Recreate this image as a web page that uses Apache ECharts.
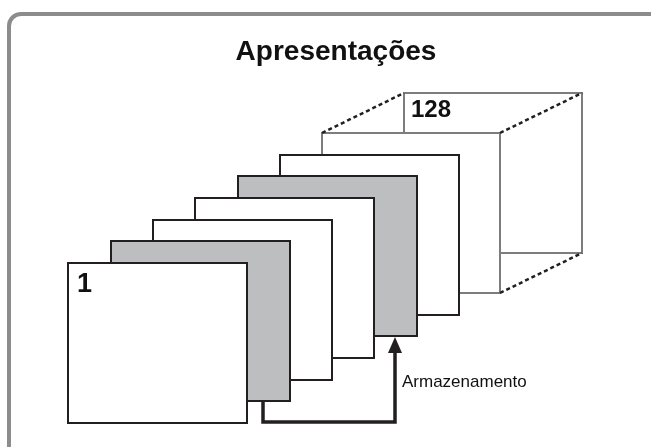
<!DOCTYPE html>
<html>
<head>
<meta charset="utf-8">
<script src="https://cdn.jsdelivr.net/npm/echarts@6/dist/echarts.min.js"></script>
<style>
  html, body { margin: 0; padding: 0; background: #fff; }
  #main { width: 651px; height: 447px; }
</style>
</head>
<body>
<div id="main"></div>
<script>
// pages, front to back (top-left corner, in px units of the hidden axes)
const pageX = [68, 111, 153, 195, 238, 280];
const pageY = [263, 241, 220, 198, 176, 155];
const pageShaded = [0, 1, 0, 0, 1, 0];
const pageW = 179;
const pageH = 160;

// the "128" cube: back face, front face [x1, y1, x2, y2]
const cubeFaces = [
  [404, 93, 582, 253],
  [322, 133, 500, 293]
];
const cubeEdges = [
  [322, 133, 404, 93],
  [500, 133, 582, 93],
  [500, 293, 582, 253]
];

// store arrow: from page 2 to page 5
const arrowPath = [[263, 401], [263, 422], [395, 422], [395, 350]];
const arrowTip = [395, 337];

const labels = [
  { text: "1", x: 77, y: 271, size: 27, bold: true },
  { text: "128", x: 411, y: 98, size: 24, bold: true },
  { text: "Armazenamento", x: 402, y: 382, size: 17, bold: false }
];

const FONT = "Liberation Sans, Arial, Helvetica, sans-serif";
const INK = "#231f20";

const pageData = [];
for (let i = pageX.length - 1; i >= 0; i--) {
  pageData.push([pageX[i], pageY[i], pageShaded[i]]);
}

const option = {
  animation: false,
  title: {
    text: "Apresentações",
    left: 331,
    top: 33,
    textAlign: "center",
    textStyle: { fontFamily: FONT, fontSize: 28, fontWeight: "bold", color: "#111" }
  },
  grid: { left: 0, right: 0, top: 0, bottom: 0 },
  xAxis: { type: "value", min: 0, max: 651, show: false },
  yAxis: { type: "value", min: 0, max: 447, inverse: true, show: false },
  graphic: [
    {
      type: "rect",
      shape: { x: 9, y: 14, width: 680, height: 470, r: 12 },
      style: { fill: "none", stroke: "#8c8c8c", lineWidth: 4 },
      silent: true
    }
  ],
  series: [
    {
      // cube faces
      type: "custom",
      clip: false,
      silent: true,
      data: cubeFaces,
      renderItem: (params, api) => {
        const a = api.coord([api.value(0), api.value(1)]);
        const b = api.coord([api.value(2), api.value(3)]);
        return {
          type: "rect",
          shape: { x: a[0], y: a[1], width: b[0] - a[0], height: b[1] - a[1] },
          style: { fill: "#fff", stroke: "#7d7d7d", lineWidth: 2 }
        };
      },
      z: 1
    },
    {
      // dashed cube edges
      type: "custom",
      clip: false,
      silent: true,
      data: cubeEdges,
      renderItem: (params, api) => {
        const a = api.coord([api.value(0), api.value(1)]);
        const b = api.coord([api.value(2), api.value(3)]);
        return {
          type: "line",
          shape: { x1: a[0], y1: a[1], x2: b[0], y2: b[1] },
          style: { stroke: INK, lineWidth: 2.5, lineDash: [4, 3] }
        };
      },
      z: 1
    },
    {
      // pages, drawn back to front
      type: "custom",
      clip: false,
      silent: true,
      data: pageData,
      renderItem: (params, api) => {
        const a = api.coord([api.value(0), api.value(1)]);
        const b = api.coord([api.value(0) + pageW, api.value(1) + pageH]);
        return {
          type: "rect",
          shape: { x: a[0], y: a[1], width: b[0] - a[0], height: b[1] - a[1] },
          style: { fill: api.value(2) ? "#bcbec0" : "#fff", stroke: INK, lineWidth: 2 }
        };
      },
      z: 2
    },
    {
      // store arrow
      type: "custom",
      clip: false,
      silent: true,
      data: [0],
      renderItem: (params, api) => {
        const pts = arrowPath.map((p) => api.coord(p));
        const tip = api.coord(arrowTip);
        return {
          type: "group",
          children: [
            {
              type: "polyline",
              shape: { points: pts },
              style: { fill: "none", stroke: INK, lineWidth: 3.5 }
            },
            {
              type: "polygon",
              shape: { points: [tip, [tip[0] - 7, tip[1] + 16], [tip[0] + 7, tip[1] + 16]] },
              style: { fill: INK }
            }
          ]
        };
      },
      z: 3
    },
    {
      // text labels
      type: "custom",
      clip: false,
      silent: true,
      data: labels.map((l) => [l.x, l.y]),
      renderItem: (params, api) => {
        const l = labels[params.dataIndex];
        const p = api.coord([api.value(0), api.value(1)]);
        return {
          type: "text",
          x: p[0],
          y: p[1],
          style: {
            text: l.text,
            fontFamily: FONT,
            fontSize: l.size,
            fontWeight: l.bold ? "bold" : "normal",
            fill: "#111",
            textAlign: "left",
            textVerticalAlign: l.bold ? "top" : "middle"
          }
        };
      },
      z: 4
    }
  ]
};

const myChart = echarts.init(document.getElementById("main"));
myChart.setOption(option);
</script>
</body>
</html>
